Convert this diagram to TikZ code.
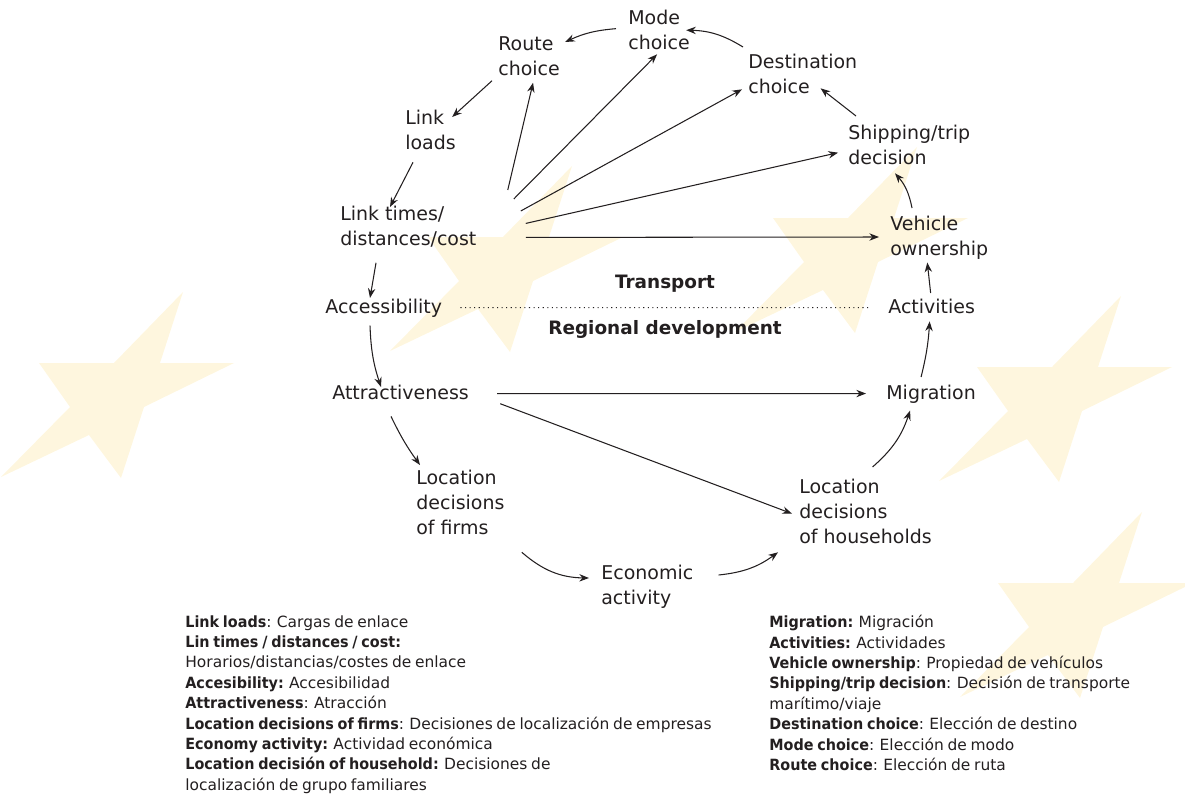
\documentclass[tikz,border=0pt]{standalone}
\usepackage{fontspec}
\setmainfont{DejaVu Sans}
\newfontfamily\legendfont{DejaVu Sans}[WordSpace=0.75, BoldFeatures={FakeStretch=0.93}]
\usetikzlibrary{arrows.meta}

\definecolor{starfill}{RGB}{254,246,222}
\definecolor{inkgray}{RGB}{35,31,32}

\tikzset{
  box/.style={anchor=north west, align=left, inner sep=0pt, text=inkgray,
    font=\fontsize{10.8}{14.2}\selectfont},
  head/.style={anchor=north, inner sep=0pt, text=inkgray,
    font=\fontsize{10.5}{13}\selectfont\bfseries},
  legend/.style={anchor=north west, align=left, inner sep=0pt, text=inkgray,
    font=\legendfont\fontsize{8.8}{11.6}\selectfont},
  arr/.style={-{Stealth[length=5.5pt,width=4.2pt]}, draw=inkgray, line width=0.6pt},
  eustar/.pic={
    \fill[starfill] (0,0) -- (-75,0) -- (-44,44) -- (-113,114) -- (-25,72)
      -- (7,115) -- (30,44) -- (120,0) -- (46,0) -- (69,-71) -- cycle;
  },
}

\begin{document}
\begin{tikzpicture}[x=0.02cm, y=-0.02cm]
	\useasboundingbox (0,0) rectangle (1185,797);
	\pic at (114,363) {eustar};
	\pic at (503,237) {eustar};
	\pic at (848,218) {eustar};
	\pic at (1052,367) {eustar};
	\pic at (1073,583) {eustar};
	\node[box] (mode) at (628,10) {Mode\\choice};
	\node[box] (route) at (498,36) {Route\\choice};
	\node[box] (dest) at (748,54) {Destination\\choice};
	\node[box] (loads) at (405,110) {Link\\loads};
	\node[box] (ship) at (848,125) {Shipping/trip\\decision};
	\node[box] (times) at (340,206) {Link times/\\distances/cost};
	\node[box] (vehicle) at (890,216) {Vehicle\\ownership};
	\node[box] (access) at (325,299) {Accessibility};
	\node[box] (activ) at (888,299) {Activities};
	\node[box] (attract) at (332,385) {Attractiveness};
	\node[box] (migr) at (886,385) {Migration};
	\node[box] (firms) at (416,470) {Location\\decisions\\of firms};
	\node[box] (house) at (799,479) {Location\\decisions\\of households};
	\node[box] (econ) at (601,565) {Economic\\activity};
	\node[head] (transport) at (665,275) {Transport};
	\node[head] (regional) at (665,320) {Regional development};
	\draw[dotted, line width=0.6pt, inkgray] ([shift={(18,-1)}]access.east) -- ([shift={(-19,1)}]activ.west);
	\draw[arr] ([shift={(-12,-1.5)}]mode.west) to[bend right=10] ([shift={(5,6)}]route.north east);
	\draw[arr] ([shift={(-5,-7)}]dest.north west) to[bend right=15] ([shift={(-4,0)}]mode.east);
	\draw[arr] ([shift={(-6,5)}]route.south west) -- ([shift={(-4,7)}]loads.north east);
	\draw[arr] ([shift={(8,12)}]loads.south west) -- ([shift={(50,1)}]times.north west);
	\draw[arr] ([shift={(36,15)}]times.south west) -- ([shift={(45,-1)}]access.north west);
	\draw[arr] ([shift={(45,7.5)}]access.south west) to[bend right=8] ([shift={(49,2)}]attract.north west);
	\draw[arr] ([shift={(59,16)}]attract.south west) to[bend right=5] ([shift={(4,-5)}]firms.north west);
	\draw[arr] ([shift={(17,17)}]firms.south east) to[bend right=20] ([shift={(-12,-9)}]econ.west);
	\draw[arr] ([shift={(25,-12)}]econ.east) to[bend right=15] ([shift={(-21,8)}]house.south west);
	\draw[arr] ([shift={(7,-12)}]house.north) to[bend right=15] ([shift={(-21,6.5)}]migr.south);
	\draw[arr] ([shift={(-10,-8)}]migr.north) to[bend right=5] ([shift={(-2,7)}]activ.south);
	\draw[arr] ([shift={(-1,-6)}]activ.north) -- ([shift={(-12,2.5)}]vehicle.south);
	\draw[arr] ([shift={(22,-8)}]vehicle.north west) to[bend right=15] ([shift={(47,8)}]ship.south west);
	\draw[arr] ([shift={(8,-9)}]ship.north west) -- ([shift={(-37,-6)}]dest.south east);
	\draw[arr] ([shift={(31,-16)}]times.north east) -- ([shift={(4,7)}]route.south);
	\draw[arr] ([shift={(37,-7)}]times.north east) -- ([shift={(-2,4)}]mode.south);
	\draw[arr] ([shift={(44,5)}]times.north east) -- ([shift={(-6,-5)}]dest.south west);
	\draw[arr] ([shift={(49,-3.5)}]times.east) -- ([shift={(-10,7.5)}]ship.west);
	\draw[arr] ([shift={(49,10.5)}]times.east) -- ([shift={(-11,-1)}]vehicle.west);
	\draw[arr] ([shift={(28,1)}]attract.east) -- ([shift={(-20,-1)}]migr.west);
	\draw[arr] ([shift={(31,11)}]attract.east) -- ([shift={(-7,2)}]house.west);
	\node[legend] (legl) at (185,615) {\textbf{Link loads}: Cargas de enlace\\
		\textbf{Lin times / distances / cost:}\\
		Horarios/distancias/costes de enlace\\
		\textbf{Accesibility:} Accesibilidad\\
		\textbf{Attractiveness}: Atracción\\
		\textbf{Location decisions of firms}: Decisiones de localización de empresas\\
		\textbf{Economy activity:} Actividad económica\\
		\textbf{Location decisión of household:} Decisiones de\\
		localización de grupo familiares};
	\node[legend] (legr) at (769,615) {\textbf{Migration:} Migración\\
		\textbf{Activities:} Actividades\\
		\textbf{Vehicle ownership}: Propiedad de vehículos\\
		\textbf{Shipping/trip decision}: Decisión de transporte\\
		marítimo/viaje\\
		\textbf{Destination choice}: Elección de destino\\
		\textbf{Mode choice}: Elección de modo\\
		\textbf{Route choice}: Elección de ruta};
\end{tikzpicture}
\end{document}
